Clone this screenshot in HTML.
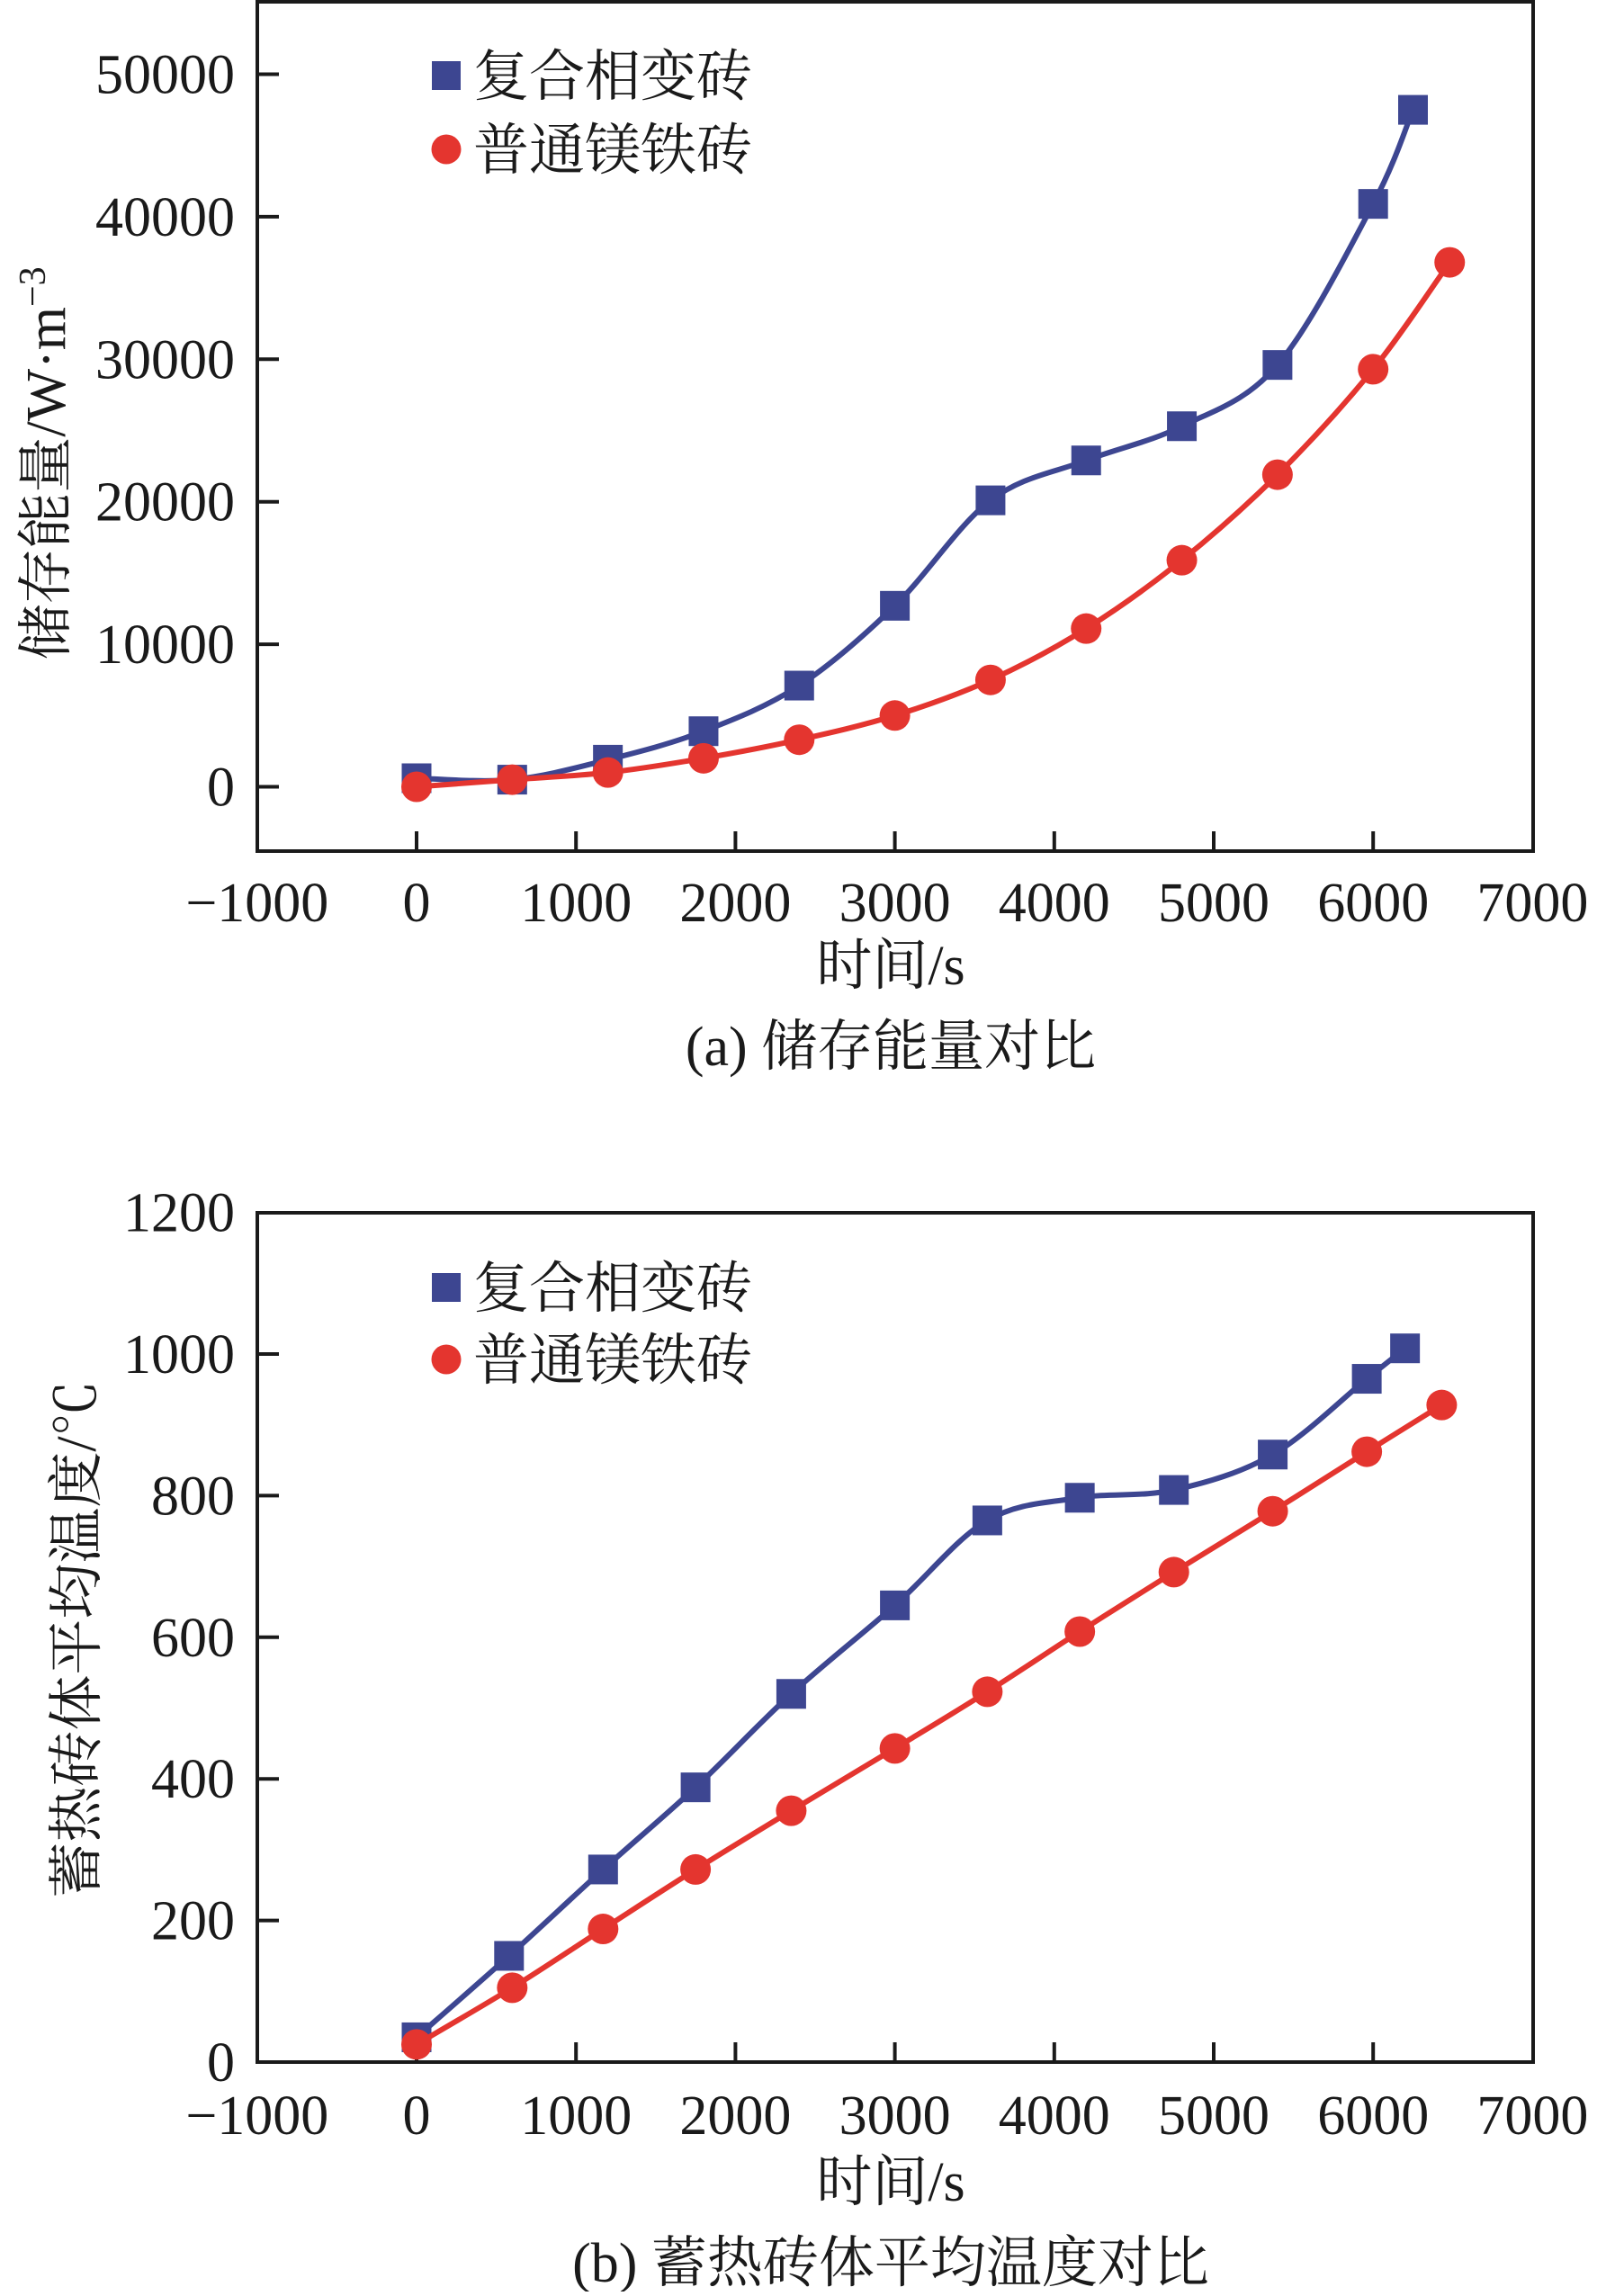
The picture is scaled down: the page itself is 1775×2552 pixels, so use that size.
<!DOCTYPE html>
<html><head><meta charset="utf-8"><style>
html,body{margin:0;padding:0;background:#fff}
svg text{font-family:"Liberation Serif","Noto Serif CJK SC",serif;fill:#1a1a1a}
</style></head><body>
<svg id="svg" width="1775" height="2547" viewBox="0 0 1775 2547" xmlns="http://www.w3.org/2000/svg"></svg>
<script>
const xTicks=[-1000,0,1000,2000,3000,4000,5000,6000,7000];
const aYTicks=[0,10000,20000,30000,40000,50000];
const bYTicks=[0,200,400,600,800,1000,1200];
const aBlueX=[0,600,1200,1800,2400,3000,3600,4200,4800,5400,6000,6250];
const aBlueY=[600,500,1900,3900,7100,12700,20100,22900,25300,29600,40900,47500];
const aRedX=[0,600,1200,1800,2400,3000,3600,4200,4800,5400,6000,6480];
const aRedY=[0,500,1000,2000,3300,5000,7500,11100,15900,21900,29300,36800];
const bBlueX=[0,580,1170,1750,2350,3000,3580,4160,4750,5370,5960,6200];
const bBlueY=[35,150,272,388,520,645,765,797,808,858,965,1008];
const bRedX=[0,600,1170,1750,2350,3000,3580,4160,4750,5370,5960,6430];
const bRedY=[25,105,188,272,355,443,523,608,692,778,862,928];
const legendLabels=["复合相变砖","普通镁铁砖"];
const NS="http://www.w3.org/2000/svg";
const svg=document.getElementById('svg');
const BLUE="#3d4691",RED="#e4352f";
function el(tag,attrs,parent,text){const e=document.createElementNS(NS,tag);for(const k in attrs)e.setAttribute(k,attrs[k]);if(text!==undefined)e.textContent=text;(parent||svg).appendChild(e);return e;}
function sx(v){return 463+v*0.1772;}
function spline(pts){let d=`M${pts[0][0]},${pts[0][1]}`;for(let i=0;i<pts.length-1;i++){const p0=pts[Math.max(0,i-1)],p1=pts[i],p2=pts[i+1],p3=pts[Math.min(pts.length-1,i+2)];const c1=[p1[0]+(p2[0]-p0[0])/6,p1[1]+(p2[1]-p0[1])/6],c2=[p2[0]-(p3[0]-p1[0])/6,p2[1]-(p3[1]-p1[1])/6];d+=` C${c1[0]},${c1[1]} ${c2[0]},${c2[1]} ${p2[0]},${p2[1]}`;}return d;}
function chart(cfg){
  const g=el('g',{});
  
  
  const sy=v=>cfg.y0-(v-cfg.ymin)*cfg.k;
  const frame=el('rect',{x:286,y:cfg.top,width:1418,height:cfg.bottom-cfg.top,fill:'none',stroke:'#1a1a1a','stroke-width':4},g);
  
  
  xTicks.forEach(t=>{const x=sx(t);
    if(t>-1000&&t<7000){const l=el('line',{x1:x,x2:x,y1:cfg.bottom,y2:cfg.bottom-22,stroke:'#1a1a1a','stroke-width':4},g);
      
      }
    const tx=el('text',{x:x,y:cfg.xl,'text-anchor':'middle','font-size':62},g,t<0?'−'+(-t):String(t));
    
    });
  cfg.yt.forEach(t=>{const y=sy(t);
    if(y>cfg.top+5&&y<cfg.bottom-5){const l=el('line',{x1:286,x2:310,y1:y,y2:y,stroke:'#1a1a1a','stroke-width':4},g);
      
      }
    const tx=el('text',{x:261,y:y+21,'text-anchor':'end','font-size':62},g,String(t));
    
    });
  const series=[[cfg.bx,cfg.by,BLUE,'sq','series-composite-brick'],[cfg.rx,cfg.ry,RED,'ci','series-magnesia-brick']];
  series.forEach(([xs,ys,c,m,nm])=>{
    const pts=xs.map((x,i)=>[sx(x),sy(ys[i])]);
    const p=el('path',{d:spline(pts),fill:'none',stroke:c,'stroke-width':6},g);
    
    
    pts.forEach(([x,y])=>{let mk;
      if(m==='sq')mk=el('rect',{x:x-16.5,y:y-16.5,width:33,height:33,fill:c},g);
      else mk=el('circle',{cx:x,cy:y,r:17,fill:c},g);
      
      });
  });
  const lg=el('g',{},g);
  
  
  const s=el('rect',{x:480,y:cfg.l1-16,width:32,height:32,fill:BLUE},lg);
  
  
  const t1=el('text',{x:526,y:cfg.l1+22,'font-size':62},lg,legendLabels[0]);
  
  
  const c=el('circle',{cx:496,cy:cfg.l2,r:16.5,fill:RED},lg);
  
  
  const t2=el('text',{x:526,y:cfg.l2+22,'font-size':62},lg,legendLabels[1]);
  
  
  const yt=el('text',{x:0,y:0,'text-anchor':'middle','font-size':62,transform:`translate(${cfg.ytx},${cfg.yty}) rotate(-90)`},g);
  yt.innerHTML=cfg.ytitle;
  
  
  const xt=el('text',{x:990,y:cfg.xtY,'text-anchor':'middle','font-size':62},g,'时间/s');
  
  
  const cp=el('text',{x:990,y:cfg.capY,'text-anchor':'middle','font-size':62},g,cfg.caption);
  
  
}
chart({name:'chart-a-stored-energy',top:2,bottom:946,y0:874.5,ymin:0,k:0.01584,yt:aYTicks,xl:1024,
  bx:aBlueX,by:aBlueY,rx:aRedX,ry:aRedY,l1:84,l2:166,ytx:72,yty:515,
  ytitle:'储存能量/W·m<tspan dy="-22" font-size="42">−3</tspan>',xtY:1094,capY:1184,caption:'(a) 储存能量对比'});
chart({name:'chart-b-avg-temperature',top:1348,bottom:2292,y0:2292,ymin:0,k:0.787,yt:bYTicks,xl:2372,
  bx:bBlueX,by:bBlueY,rx:bRedX,ry:bRedY,l1:1431,l2:1511,ytx:106,yty:1822,
  ytitle:'蓄热砖体平均温度/℃',xtY:2446,capY:2536,caption:'(b) 蓄热砖体平均温度对比'});
</script>
</body></html>
